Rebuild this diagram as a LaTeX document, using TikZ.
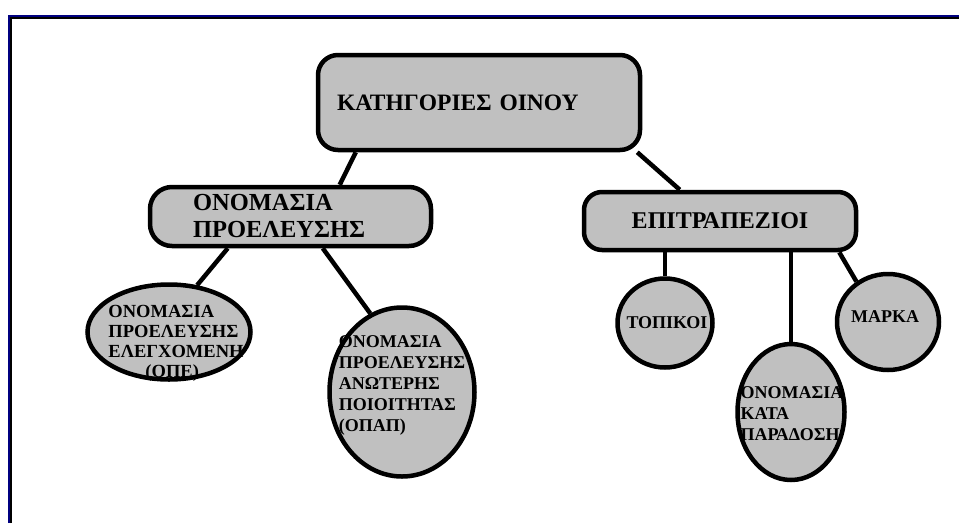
\documentclass[tikz,border=0pt]{standalone}
\usepackage{fontspec}
\setmainfont{Liberation Serif}
\usepackage{xcolor}
\usetikzlibrary{shapes.geometric,backgrounds,positioning}

\definecolor{boxgray}{RGB}{192,192,192}
\definecolor{framenavy}{RGB}{0,0,128}

% text that may run over the edge of its ellipse (shift x, raise y, lines)
\newcommand{\inell}[3]{\makebox[0pt]{\hspace{#1}\raisebox{#2}[0pt][0pt]{\begin{tabular}{@{}l@{}}#3\end{tabular}}}}

\begin{document}
\begin{tikzpicture}[x=1pt, y=-1pt,
  catbox/.style={draw, line width=4.5pt, fill=boxgray, inner sep=0pt},
  kind/.style={draw, ellipse, line width=4.5pt, fill=boxgray, inner sep=0pt, font=\bfseries\fontsize{18}{21}\selectfont},
  link/.style={line width=4.5pt},
]
\useasboundingbox (0,0) rectangle (959,523);

% frame
\draw[line width=1.4pt] (11.1,523) |- (959,17.8);
\draw[framenavy, line width=2.3pt] (9.2,523) |- (959,16.2);

\node[catbox, rounded corners=20pt, minimum width=322pt, minimum height=95pt, text width=284pt, align=left,
  font=\bfseries\fontsize{23.5}{27}\selectfont] (top) at (479,102.5) {ΚΑΤΗΓΟΡΙΕΣ ΟΙΝΟΥ};

\node[catbox, rounded corners=22pt, minimum width=281pt, minimum height=59pt, text width=195pt, align=left,
  font=\bfseries\fontsize{24.5}{27}\selectfont] (onom) at (290.5,216.5) {ΟΝΟΜΑΣΙΑ\\ΠΡΟΕΛΕΥΣΗΣ};
\node[catbox, rounded corners=18pt, minimum width=272pt, minimum height=58pt, align=center,
  font=\bfseries\fontsize{24}{27}\selectfont] (epit) at (720,221) {ΕΠΙΤΡΑΠΕΖΙΟΙ};

\node[kind, minimum width=163pt, minimum height=95pt, font=\bfseries\fontsize{18.5}{20}\selectfont] (ope) at (169,332)
  {\inell{14pt}{-15.6pt}{ΟΝΟΜΑΣΙΑ\\ΠΡΟΕΛΕΥΣΗΣ\\ΕΛΕΓΧΟΜΕΝΗ\\\hspace*{37pt}(ΟΠΕ)}};
\node[kind, minimum width=145pt, minimum height=169pt] (opap) at (402,392)
  {\inell{0pt}{1.9pt}{ΟΝΟΜΑΣΙΑ\\ΠΡΟΕΛΕΥΣΗΣ\\ΑΝΩΤΕΡΗΣ\\ΠΟΙΟΙΤΗΤΑΣ\\(ΟΠΑΠ)}};

\node[kind, minimum width=95pt, minimum height=89pt] (topikoi) at (665,323)
  {\inell{4pt}{-5.6pt}{ΤΟΠΙΚΟΙ}};
\node[kind, minimum width=107pt, minimum height=136pt] (parad) at (791,412)
  {\inell{2pt}{-8.1pt}{ΟΝΟΜΑΣΙΑ\\ΚΑΤΑ\\ΠΑΡΑΔΟΣΗ}};
\node[kind, minimum width=102pt, minimum height=96pt] (marka) at (888,322)
  {\inell{-6pt}{-0.6pt}{ΜΑΡΚΑ}};

\begin{scope}[on background layer]
\draw[link] ([xshift=40pt]top.south west) -- ([xshift=192pt]onom.north west);
\draw[link] ([xshift=-5pt]top.south east) -- ([xshift=98pt]epit.north west);
\draw[link] ([xshift=80pt]onom.south west) -- (ope.59);
\draw[link] ([xshift=175pt]onom.south west) -- (opap.112);
\draw[link] (topikoi.north |- epit.south) -- (topikoi.north);
\draw[link] (parad.north |- epit.south) -- (parad.north);
\draw[link] ([xshift=-19pt]epit.south east) -- (marka.128);
\end{scope}

\end{tikzpicture}
\end{document}
